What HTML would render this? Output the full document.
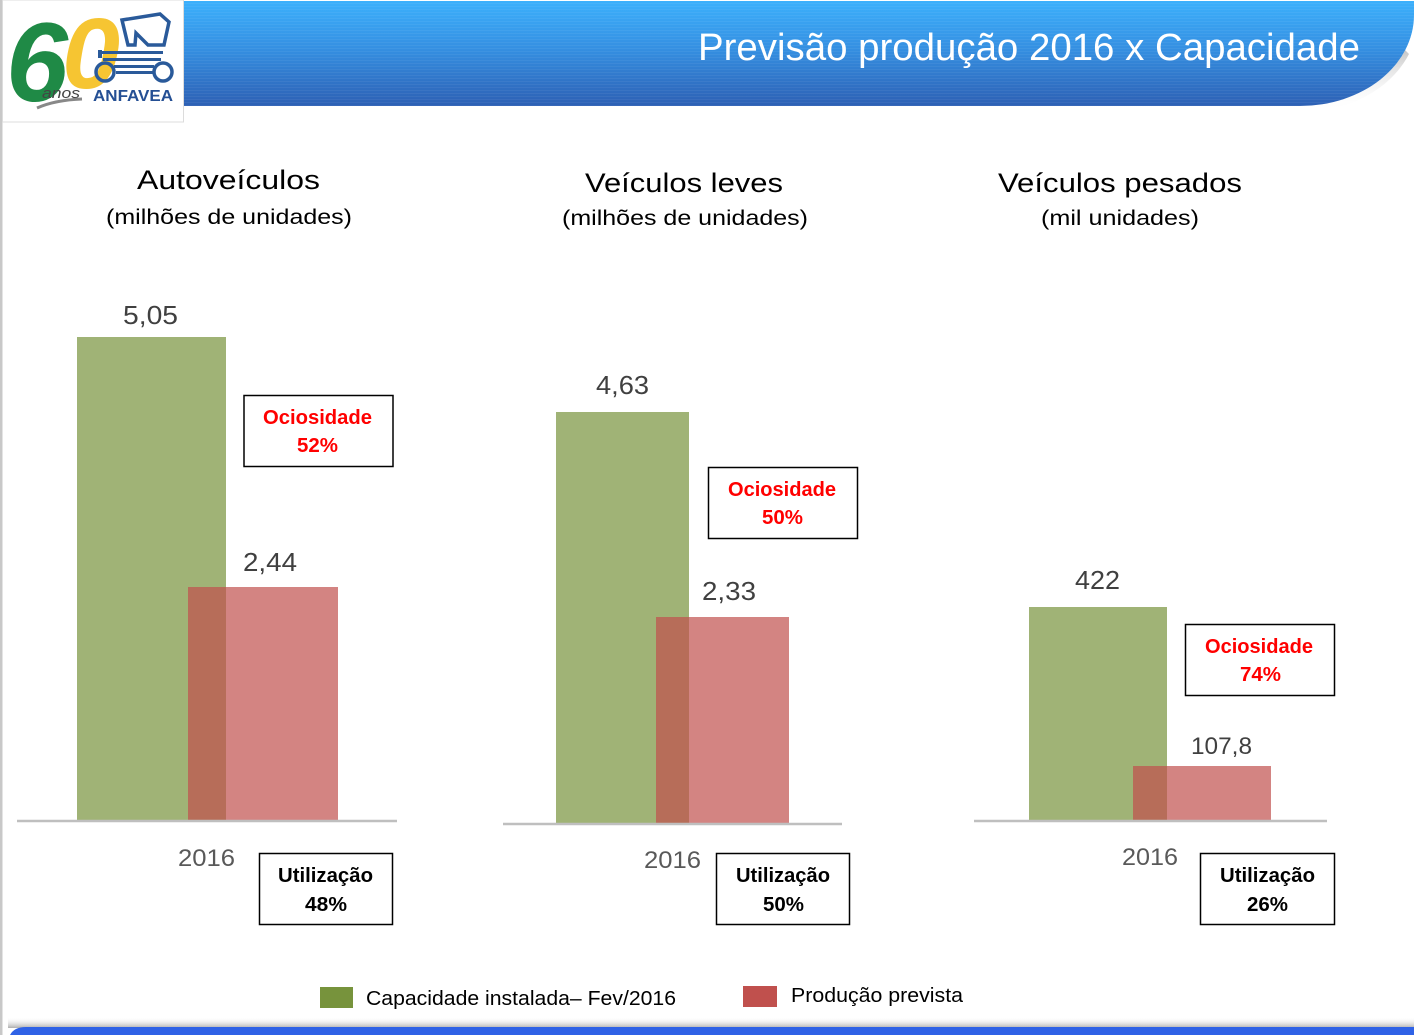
<!DOCTYPE html>
<html>
<head>
<meta charset="utf-8">
<style>
html,body{margin:0;padding:0;background:#fff;}
svg{display:block;}
text{font-family:"Liberation Sans",Arial,sans-serif;}
</style>
</head>
<body>
<svg width="1414" height="1035" viewBox="0 0 1414 1035" xmlns="http://www.w3.org/2000/svg">
<defs>
  <linearGradient id="hdr" x1="0" y1="0" x2="0" y2="1">
    <stop offset="0" stop-color="#3cb0fc"/>
    <stop offset="0.45" stop-color="#3590e2"/>
    <stop offset="1" stop-color="#2d60b4"/>
  </linearGradient>
  <linearGradient id="shd" x1="0" y1="0" x2="0" y2="1">
    <stop offset="0" stop-color="#a0a0a0" stop-opacity="0.6"/>
    <stop offset="1" stop-color="#ffffff" stop-opacity="0"/>
  </linearGradient>
  <linearGradient id="shd2" x1="0" y1="1" x2="0" y2="0">
    <stop offset="0" stop-color="#9a9a9a" stop-opacity="0.8"/>
    <stop offset="1" stop-color="#ffffff" stop-opacity="0"/>
  </linearGradient>
  <pattern id="stripes" width="4" height="3" patternUnits="userSpaceOnUse">
    <rect width="4" height="1" fill="#ffffff" fill-opacity="0.05"/>
  </pattern>
</defs>

<!-- page left border -->
<rect x="0" y="0" width="2.5" height="1035" fill="#c8c8c8"/>

<!-- header shadow -->
<path d="M180,104 H1300 A114 91 0 0 0 1405,50 L1409,54 A116 95 0 0 1 1300,112 H180 Z" fill="url(#shd)"/>
<!-- header bar -->
<path d="M180,1 H1414 V15 A114 91 0 0 1 1300,106 H180 Z" fill="url(#hdr)"/>
<path d="M180,1 H1414 V15 A114 91 0 0 1 1300,106 H180 Z" fill="url(#stripes)"/>
<text x="698" y="60" font-size="38" fill="#ffffff" textLength="662" lengthAdjust="spacingAndGlyphs">Previsão produção 2016 x Capacidade</text>

<!-- logo box -->
<rect x="2.5" y="0" width="181" height="122" fill="#ffffff" stroke="#dcdcdc" stroke-width="1"/>
<text x="6" y="101" font-size="112" font-weight="bold" font-style="italic" fill="#1f8a46" textLength="62" lengthAdjust="spacingAndGlyphs">6</text>
<text x="62" y="88" font-size="100" font-weight="bold" font-style="italic" fill="#f6c532" textLength="58" lengthAdjust="spacingAndGlyphs">0</text>
<text x="42" y="98" font-size="15" font-style="italic" fill="#444" textLength="38" lengthAdjust="spacingAndGlyphs">anos</text>
<path d="M37,108 Q55,100 82,99" stroke="#888" stroke-width="3" fill="none"/>
<!-- tractor -->
<g stroke="#2a5a9a" fill="none" stroke-width="3.5">
  <path d="M122,20 L160,14 L169,22 L164,45 L148,45 L136,33 L135,45 L128,45 Z"/>
  <circle cx="105" cy="72" r="9"/>
  <circle cx="163" cy="72" r="9"/>
</g>
<g fill="#2a5a9a">
  <rect x="100" y="51" width="63" height="3"/>
  <rect x="103" y="58" width="58" height="3"/>
  <rect x="114" y="65" width="40" height="3"/>
  <rect x="116" y="71" width="37" height="3"/>
  <rect x="98" y="50" width="4" height="8"/>
</g>
<text x="93" y="101" font-size="16" font-weight="bold" fill="#244f94" textLength="80" lengthAdjust="spacingAndGlyphs">ANFAVEA</text>

<!-- Chart titles -->
<text x="137" y="189" font-size="27" fill="#000" textLength="183" lengthAdjust="spacingAndGlyphs">Autoveículos</text>
<text x="106" y="224" font-size="21" fill="#000" textLength="246" lengthAdjust="spacingAndGlyphs">(milhões de unidades)</text>
<text x="585" y="192" font-size="27" fill="#000" textLength="198" lengthAdjust="spacingAndGlyphs">Veículos leves</text>
<text x="562" y="225" font-size="21" fill="#000" textLength="246" lengthAdjust="spacingAndGlyphs">(milhões de unidades)</text>
<text x="998" y="192" font-size="27" fill="#000" textLength="244" lengthAdjust="spacingAndGlyphs">Veículos pesados</text>
<text x="1041" y="225" font-size="21" fill="#000" textLength="158" lengthAdjust="spacingAndGlyphs">(mil unidades)</text>

<!-- Chart 1 -->
<rect x="77" y="337" width="149" height="483" fill="#77933c" fill-opacity="0.7"/>
<rect x="188" y="587" width="150" height="233" fill="#c0504d" fill-opacity="0.7"/>
<line x1="17" y1="821" x2="397" y2="821" stroke="#bfbfbf" stroke-width="2.5"/>
<text x="123" y="324" font-size="26" fill="#404040" textLength="55" lengthAdjust="spacingAndGlyphs">5,05</text>
<text x="243" y="571" font-size="26" fill="#404040" textLength="54" lengthAdjust="spacingAndGlyphs">2,44</text>
<text x="178" y="866" font-size="24" fill="#595959" textLength="57" lengthAdjust="spacingAndGlyphs">2016</text>
<rect x="244" y="395.5" width="149" height="71" fill="#fff" stroke="#000" stroke-width="1.5"/>
<text x="263" y="424" font-size="20" font-weight="bold" fill="#ff0000" textLength="109" lengthAdjust="spacingAndGlyphs">Ociosidade</text>
<text x="297" y="452" font-size="20" font-weight="bold" fill="#ff0000" textLength="41" lengthAdjust="spacingAndGlyphs">52%</text>
<rect x="259.5" y="853.5" width="133" height="71" fill="#fff" stroke="#000" stroke-width="1.5"/>
<text x="278" y="882" font-size="20" font-weight="bold" fill="#000" textLength="95" lengthAdjust="spacingAndGlyphs">Utilização</text>
<text x="305" y="911" font-size="20" font-weight="bold" fill="#000" textLength="42" lengthAdjust="spacingAndGlyphs">48%</text>

<!-- Chart 2 -->
<rect x="556" y="412" width="133" height="411" fill="#77933c" fill-opacity="0.7"/>
<rect x="656" y="617" width="133" height="206" fill="#c0504d" fill-opacity="0.7"/>
<line x1="503" y1="824" x2="842" y2="824" stroke="#bfbfbf" stroke-width="2.5"/>
<text x="596" y="394" font-size="26" fill="#404040" textLength="53" lengthAdjust="spacingAndGlyphs">4,63</text>
<text x="702" y="600" font-size="26" fill="#404040" textLength="54" lengthAdjust="spacingAndGlyphs">2,33</text>
<text x="644" y="868" font-size="24" fill="#595959" textLength="57" lengthAdjust="spacingAndGlyphs">2016</text>
<rect x="708.5" y="467.5" width="149" height="71" fill="#fff" stroke="#000" stroke-width="1.5"/>
<text x="728" y="496" font-size="20" font-weight="bold" fill="#ff0000" textLength="108" lengthAdjust="spacingAndGlyphs">Ociosidade</text>
<text x="762" y="524" font-size="20" font-weight="bold" fill="#ff0000" textLength="41" lengthAdjust="spacingAndGlyphs">50%</text>
<rect x="716.5" y="853.5" width="133" height="71" fill="#fff" stroke="#000" stroke-width="1.5"/>
<text x="736" y="882" font-size="20" font-weight="bold" fill="#000" textLength="94" lengthAdjust="spacingAndGlyphs">Utilização</text>
<text x="763" y="911" font-size="20" font-weight="bold" fill="#000" textLength="41" lengthAdjust="spacingAndGlyphs">50%</text>

<!-- Chart 3 -->
<rect x="1029" y="607" width="138" height="213" fill="#77933c" fill-opacity="0.7"/>
<rect x="1133" y="766" width="138" height="54" fill="#c0504d" fill-opacity="0.7"/>
<line x1="974" y1="821" x2="1327" y2="821" stroke="#bfbfbf" stroke-width="2.5"/>
<text x="1075" y="589" font-size="26" fill="#404040" textLength="45" lengthAdjust="spacingAndGlyphs">422</text>
<text x="1191" y="754" font-size="24" fill="#404040" textLength="61" lengthAdjust="spacingAndGlyphs">107,8</text>
<text x="1122" y="865" font-size="24" fill="#595959" textLength="56" lengthAdjust="spacingAndGlyphs">2016</text>
<rect x="1185.5" y="624.5" width="149" height="71" fill="#fff" stroke="#000" stroke-width="1.5"/>
<text x="1205" y="653" font-size="20" font-weight="bold" fill="#ff0000" textLength="108" lengthAdjust="spacingAndGlyphs">Ociosidade</text>
<text x="1240" y="681" font-size="20" font-weight="bold" fill="#ff0000" textLength="41" lengthAdjust="spacingAndGlyphs">74%</text>
<rect x="1200.5" y="853.5" width="134" height="71" fill="#fff" stroke="#000" stroke-width="1.5"/>
<text x="1220" y="882" font-size="20" font-weight="bold" fill="#000" textLength="95" lengthAdjust="spacingAndGlyphs">Utilização</text>
<text x="1247" y="911" font-size="20" font-weight="bold" fill="#000" textLength="41" lengthAdjust="spacingAndGlyphs">26%</text>

<!-- Legend -->
<rect x="320" y="987" width="33" height="21" fill="#77933c"/>
<text x="366" y="1005" font-size="20" fill="#000" textLength="310" lengthAdjust="spacingAndGlyphs">Capacidade instalada– Fev/2016</text>
<rect x="743" y="986" width="34" height="21" fill="#c0504d"/>
<text x="791" y="1002" font-size="20" fill="#000" textLength="172" lengthAdjust="spacingAndGlyphs">Produção prevista</text>

<!-- bottom bar -->
<rect x="8" y="1017" width="1406" height="11" fill="url(#shd2)"/>
<path d="M10,1035 Q14,1027 26,1027 H1414 V1035 Z" fill="#2f62e6"/>
</svg>
</body>
</html>
